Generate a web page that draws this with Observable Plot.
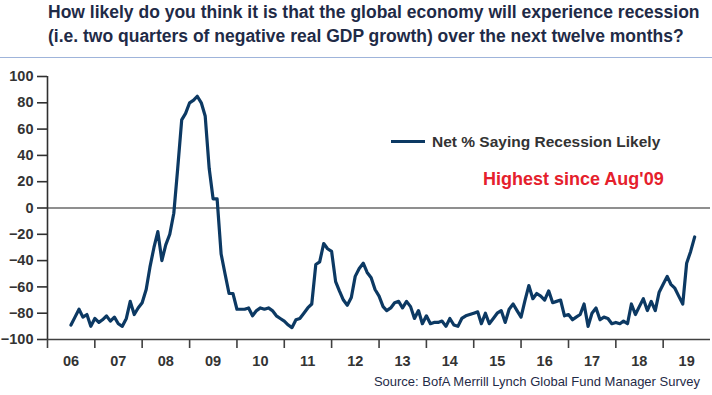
<!DOCTYPE html>
<html>
<head>
<meta charset="utf-8">
<script src="https://cdn.jsdelivr.net/npm/d3@7"></script>
<script src="https://cdn.jsdelivr.net/npm/@observablehq/plot@0.6"></script>
<style>
  html, body { margin: 0; padding: 0; background: #fff; }
  #wrap { position: relative; width: 712px; height: 395px; overflow: hidden; font-family: "Liberation Sans", Arial, sans-serif; }
  #title { box-sizing: border-box; height: 58px; padding: 1px 0 0 48px; border-bottom: 1px solid #9fb4da;
           font-size: 17.5px; line-height: 23.5px; font-weight: bold; color: #1f2b47; white-space: nowrap; }
  #chart { position: absolute; left: 0; top: 58px; }
  .legend-line { position: absolute; left: 391px; top: 139.5px; width: 34px; height: 3.5px; background: #0c3963; }
  .legend-text { position: absolute; left: 432px; top: 133.6px; font-size: 15.5px; line-height: 15.5px; font-weight: bold; color: #333; white-space: nowrap; }
  .note { position: absolute; left: 483px; top: 169.8px; font-size: 18px; line-height: 18px; font-weight: bold; color: #e5202c; white-space: nowrap; }
  #source { position: absolute; right: 12px; top: 375px; font-size: 13px; line-height: 13px; color: #1f2b47; white-space: nowrap; }
</style>
</head>
<body>
<div id="wrap">
  <div id="title">How likely do you think it is that the global economy will experience recession<br>(i.e. two quarters of negative real GDP growth) over the next twelve months?</div>
  <div id="chart"></div>
  <div class="legend-line"></div>
  <div class="legend-text">Net % Saying Recession Likely</div>
  <div class="note">Highest since Aug'09</div>
  <div id="source">Source: BofA Merrill Lynch Global Fund Manager Survey</div>
</div>
<script>
// Monthly series, Jul 2006 .. Sep 2019: net % saying recession likely
const startYear = 2006;
const startMonth = 6; // July (0-based)
const values = [
  -89, -83, -77, -83, -81, -90, -84, -87, -85, -82, -86, -83, -88, -90, -84, -71, -81, -76, -72, -62,
  -45, -30, -18, -40, -28, -20, -4, 30, 67, 72, 80, 82, 85, 80, 70, 30, 7, 7, -35, -50,
  -65, -65, -77, -77, -77, -76, -82, -78, -76, -77, -76, -78, -82, -84, -86, -89, -91, -85, -84, -80,
  -76, -73, -43, -41, -27, -31, -33, -56, -63, -70, -74, -68, -52, -46, -42, -49, -53, -62, -67, -75,
  -78, -76, -72, -71, -76, -71, -75, -84, -78, -88, -82, -88, -87, -87, -86, -90, -84, -89, -90, -84,
  -82, -81, -80, -79, -88, -80, -88, -84, -80, -78, -87, -77, -73, -78, -83, -70, -59, -69, -65, -67,
  -70, -63, -72, -71, -70, -82, -81, -85, -83, -81, -73, -90, -80, -76, -85, -83, -84, -88, -87, -88,
  -86, -88, -73, -81, -75, -69, -78, -71, -78, -64, -58, -52, -58, -61, -67, -73, -42, -33, -22
];
const years = [2006, 2007, 2008, 2009, 2010, 2011, 2012, 2013, 2014, 2015, 2016, 2017, 2018, 2019];
const yTicks = [-100, -80, -60, -40, -20, 0, 20, 40, 60, 80, 100];
const xDomain = [new Date(Date.UTC(2006, 0, 1)), new Date(Date.UTC(2020, 0, 1))];

const data = values.map((v, i) => ({ date: new Date(Date.UTC(startYear, startMonth + i, 1)), value: v }));
const yearStarts = years.map(y => new Date(Date.UTC(y, 0, 1)));
const yearMids = years.map(y => new Date(Date.UTC(y, 6, 1)));

const chart = Plot.plot({
  width: 712,
  height: 318,
  marginTop: 18,
  marginBottom: 37,
  marginLeft: 47,
  marginRight: 2,
  style: { fontFamily: "'Liberation Sans', Arial, sans-serif", background: "transparent", color: "#333" },
  x: { type: "utc", domain: xDomain },
  y: { domain: [-100, 100] },
  marks: [
    Plot.ruleY([0], { stroke: "#6a6a6a", strokeWidth: 1.6 }),
    Plot.ruleY([-100], { stroke: "#404040", strokeWidth: 1.6 }),
    Plot.ruleX([xDomain[0]], { stroke: "#303030", strokeWidth: 1.6 }),
    Plot.axisY(yTicks, { tickSize: 10, tickPadding: 4, fontSize: 14.5, fontWeight: "bold", stroke: "#303030", strokeWidth: 1.6, fill: "#333", label: null }),
    Plot.axisX(yearStarts, { tickSize: 9, tickFormat: () => "", stroke: "#404040", strokeWidth: 1.6, label: null }),
    Plot.axisX(yearMids, { tickSize: 0, tickPadding: 16, tickFormat: d3.utcFormat("%y"), fontSize: 14.5, fontWeight: "bold", fill: "#333", label: null }),
    Plot.line(data, { x: "date", y: "value", stroke: "#0c3963", strokeWidth: 3.2, strokeLinejoin: "round", strokeLinecap: "round" })
  ]
});
document.getElementById("chart").appendChild(chart);
</script>
</body>
</html>
